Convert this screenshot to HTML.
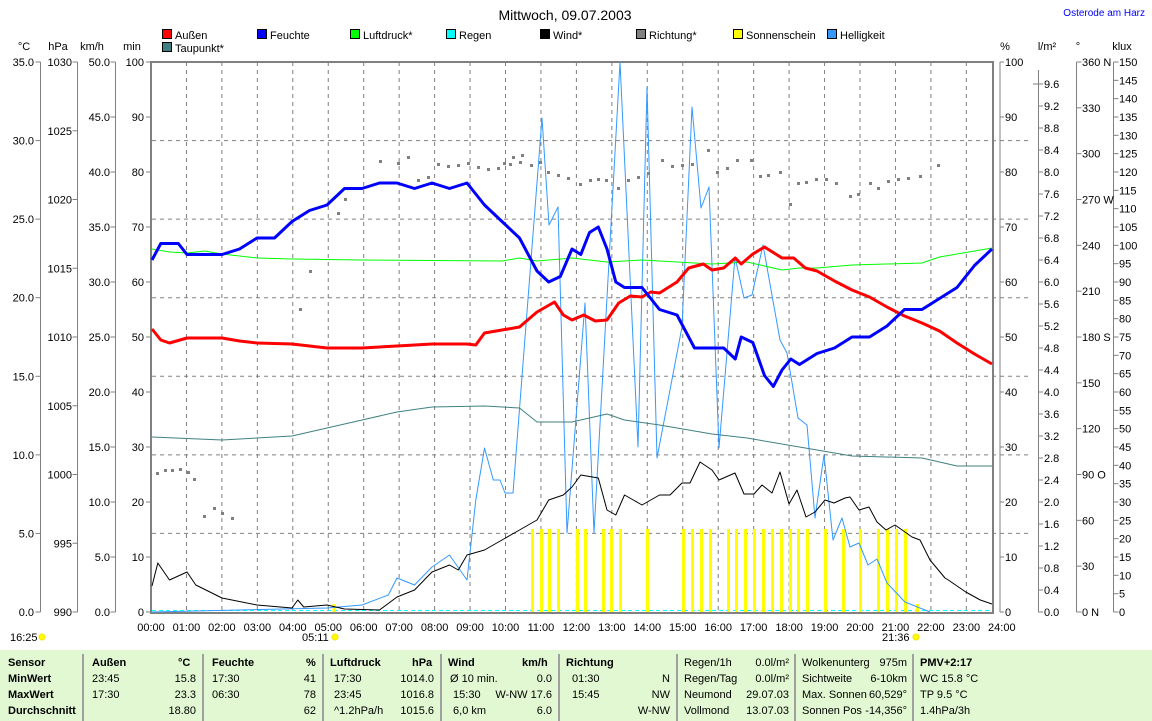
<!DOCTYPE html>
<html><head><meta charset="utf-8">
<style>
body{margin:0;background:#fff;width:1152px;height:721px;overflow:hidden;font-family:"Liberation Sans",sans-serif;}
svg{position:absolute;left:0;top:0}
svg text{font-family:"Liberation Sans",sans-serif;font-size:11px;fill:#000}
#tbl{position:absolute;left:0;top:650px;width:1152px;height:71px;background:#e2f8d2;font-size:11px;font-family:"Liberation Sans",sans-serif;}
#tbl div{position:absolute;white-space:nowrap;line-height:16px}
#tbl .b{font-weight:bold}
#tbl .v{position:absolute;width:2px;background:#a0a0a0;top:4px;height:67px}
</style></head><body>
<svg id="s" width="1152" height="650" xmlns="http://www.w3.org/2000/svg">
<text x="565" y="20" text-anchor="middle" style="font-size:14px">Mittwoch, 09.07.2003</text>
<text x="1145" y="16" text-anchor="end" style="fill:#0000ff;font-size:10px">Osterode am Harz</text>
<g id="leg"></g>
<g id="grid"></g>
<g id="axes" stroke="#808080" fill="none"></g>
<g id="lbl"></g>
<g id="data"></g>
<text x="24" y="50" text-anchor="middle">°C</text>
<text x="58" y="50" text-anchor="middle">hPa</text>
<text x="92" y="50" text-anchor="middle">km/h</text>
<text x="132" y="50" text-anchor="middle">min</text>
<text x="1005" y="50" text-anchor="middle">%</text>
<text x="1047" y="50" text-anchor="middle">l/m²</text>
<text x="1078" y="50" text-anchor="middle">°</text>
<text x="1122" y="50" text-anchor="middle">klux</text>
<text x="10" y="641">16:25</text>
<text x="302" y="641">05:11</text>
<text x="882" y="641">21:36</text>
</svg>
<div id="tbl">
<div class="v" style="left:82px"></div><div class="v" style="left:202px"></div><div class="v" style="left:322px"></div><div class="v" style="left:440px"></div><div class="v" style="left:558px"></div><div class="v" style="left:676px"></div><div class="v" style="left:794px"></div><div class="v" style="left:912px"></div>
<div class="b" style="left:8px;top:5px">Sensor<br>MinWert<br>MaxWert<br>Durchschnitt</div>
<div class="b" style="left:92px;top:5px">Außen</div><div class="b" style="left:178px;top:5px">°C</div>
<div style="left:92px;top:21px">23:45<br>17:30</div><div style="left:150px;top:21px;text-align:right;width:46px">15.8<br>23.3<br>18.80</div>
<div class="b" style="left:212px;top:5px">Feuchte</div><div class="b" style="left:306px;top:5px">%</div>
<div style="left:212px;top:21px">17:30<br>06:30</div><div style="left:280px;top:21px;text-align:right;width:36px">41<br>78<br>62</div>
<div class="b" style="left:330px;top:5px">Luftdruck</div><div class="b" style="left:412px;top:5px">hPa</div>
<div style="left:334px;top:21px">17:30<br>23:45<br>^1.2hPa/h</div><div style="left:390px;top:21px;text-align:right;width:44px">1014.0<br>1016.8<br>1015.6</div>
<div class="b" style="left:448px;top:5px">Wind</div><div class="b" style="left:522px;top:5px">km/h</div>
<div style="left:450px;top:21px">Ø 10 min.<br>&nbsp;15:30<br>&nbsp;6,0 km</div><div style="left:490px;top:21px;text-align:right;width:62px">0.0<br>W-NW 17.6<br>6.0</div>
<div class="b" style="left:566px;top:5px">Richtung</div>
<div style="left:572px;top:21px">01:30<br>15:45</div><div style="left:620px;top:21px;text-align:right;width:50px">N<br>NW<br>W-NW</div>
<div style="left:684px;top:5px">Regen/1h<br>Regen/Tag<br>Neumond<br>Vollmond</div><div style="left:730px;top:5px;text-align:right;width:59px">0.0l/m²<br>0.0l/m²<br>29.07.03<br>13.07.03</div>
<div style="left:802px;top:5px">Wolkenunterg<br>Sichtweite<br>Max. Sonnen<br>Sonnen Pos</div><div style="left:848px;top:5px;text-align:right;width:59px">975m<br>6-10km<br>60,529°<br>-14,356°</div>
<div style="left:920px;top:5px"><b>PMV+2:17</b><br>WC 15.8 °C<br>TP 9.5 °C<br>1.4hPa/3h</div>
</div>
<script>
var NS="http://www.w3.org/2000/svg";
function el(p,t,a){var e=document.createElementNS(NS,t);for(var k in a)e.setAttribute(k,a[k]);p.appendChild(e);return e;}
function tx(p,x,y,s,anc){var e=el(p,"text",{x:x,y:y});if(anc)e.setAttribute("text-anchor",anc);e.textContent=s;return e;}
var L=152,R=992,T=62,B=612;
function X(h){return L+35*h}
function G(h){return 151+35.45*h}
function hm(s){var a=s.split(":");return +a[0]+a[1]/60}
function px(v){return typeof v==="number"?v:X(hm(v))}
var g=document.getElementById("grid"),ax=document.getElementById("axes"),lb=document.getElementById("lbl"),d=document.getElementById("data"),lg=document.getElementById("leg");
var leg=[["Außen","#ff0000",162,38],["Feuchte","#0000ff",257,38],["Luftdruck*","#00ff00",350,38],["Regen","#00ffff",446,38],["Wind*","#000000",540,38],["Richtung*","#808080",636,38],["Sonnenschein","#ffff00",733,38],["Helligkeit","#3399ff",827,38],["Taupunkt*","#408080",162,51]];
leg.forEach(function(l){el(lg,"rect",{x:l[2]+0.5,y:l[3]-8.5,width:9,height:9,fill:l[1],stroke:"#000"});tx(lg,l[2]+13,l[3]+1,l[0]);});
for(var h=1;h<24;h++)el(g,"line",{x1:G(h),y1:T,x2:G(h),y2:B,stroke:"#808080","stroke-dasharray":"4,4"});
for(var i=1;i<7;i++){var y=B-i*550/7;el(g,"line",{x1:L,y1:y,x2:1030,y2:y,stroke:"#808080","stroke-dasharray":"4,4"});}
el(g,"line",{x1:L,y1:610.5,x2:R,y2:610.5,stroke:"#00ffff","stroke-dasharray":"4,3"});
el(ax,"rect",{x:L-1,y:T,width:R-L+2,height:B-T+1,"stroke-width":2});
el(ax,"line",{x1:1000,y1:T,x2:1000,y2:B});
function axis(x,n,fmt,lx,right){el(ax,"line",{x1:x,y1:T,x2:x,y2:B});for(var i=0;i<=n;i++){var y=B-i*550/n;el(ax,"line",{x1:right?x:x-5,y1:y,x2:right?x+5:x,y2:y});tx(lb,lx,y+4,fmt(i),right?"start":"end");}}
axis(40.5,7,function(i){return (i*5).toFixed(1)},34,false);
axis(77.5,8,function(i){return 990+i*5},72,false);
axis(115.5,10,function(i){return (i*5).toFixed(1)},110,false);
for(var i=0;i<=10;i++){var y=B-i*55;el(ax,"line",{x1:146,y1:y,x2:150,y2:y});tx(lb,144,y+4,i*10,"end");}
for(var i=0;i<=10;i++){var y=B-i*55;el(ax,"line",{x1:1000,y1:y,x2:1004,y2:y});tx(lb,1005,y+4,i*10);}
el(ax,"line",{x1:1038.5,y1:70,x2:1038.5,y2:B});
for(var i=0;i<=24;i++){var y=B-i*22;el(ax,"line",{x1:1038,y1:y,x2:1043,y2:y});tx(lb,1044,y+4,(i*0.4).toFixed(1));}
el(ax,"line",{x1:1033,y1:84,x2:1043,y2:84});
var dn={0:" N",3:" O",6:" S",9:" W",12:" N"};
axis(1076.5,12,function(i){return (i*30)+(dn[i]||"")},1082,true);
axis(1113.5,30,function(i){return i*5},1119,true);
for(var h=0;h<=24;h++)tx(lb,G(h),631,(h<10?"0":"")+h+":00","middle");
[[42,637],[335,637],[916,637]].forEach(function(p){el(lb,"circle",{cx:p[0],cy:p[1],r:3,fill:"#ffff00",stroke:"#ffe000"});});
el(d,"line",{x1:334,y1:604,x2:334,y2:612,stroke:"#ffff00","stroke-width":3});
[532,541,549,558,577,585,603,611,620,647,683,692,701,710,728,736,745,754,763,772,781,790,798,807,825,843,860,878,887,896,905].forEach(function(x){el(d,"rect",{x:x-1,y:529,width:3,height:83,fill:"#ffff00"});});
el(d,"rect",{x:916,y:604,width:3,height:8,fill:"#ffff00"});
function line(pts,col,w){var s=pts.map(function(p){return px(p[0]).toFixed(1)+","+p[1]}).join(" ");el(d,"polyline",{points:s,fill:"none",stroke:col,"stroke-width":w||1,"stroke-linejoin":"round"});}
var dots=[[157,473],[165,470],[172,470],[180,469],[188,472],[194,479],[204,516],[214,508],[222,513],[232,518],[300,309],[310,271],[338,213],[345,199],[380,161],[398,163],[408,157],[418,180],[428,177],[438,164],[448,166],[458,165],[468,163],[478,167],[488,169],[498,168],[510,164],[520,162],[504,163],[513,157],[522,155],[531,165],[540,162],[548,172],[558,175],[568,178],[580,184],[590,180],[598,179],[606,180],[618,188],[628,180],[638,177],[648,173],[662,160],[672,166],[682,165],[692,164],[708,150],[717,172],[727,168],[737,160],[751,160],[760,176],[768,175],[780,172],[790,204],[798,183],[806,182],[816,179],[826,179],[836,183],[850,196],[858,194],[870,183],[878,188],[888,181],[898,179],[908,178],[920,176],[938,165]];
dots.forEach(function(p){el(d,"rect",{x:p[0]-1,y:p[1]-1,width:3,height:3,fill:"#808080"});});
// helligkeit
line([["0:00",612],["5:00",608],["6:00",605],["6:45",595],["7:00",578],["7:30",585],["8:00",567],["8:30",555],["9:00",580],["9:15",500],["9:30",448],["9:45",480],[500,480],[505,493],[513,493],[542,118],[549,225],[558,207],[567,533],[585,303],[594,533],[620,62],[638,447],[647,87],[657,458],[682,327],[692,107],[701,208],[709,187],[719,448],[735,257],[744,298],[752,295],[763,245],[780,340],[787,353],[798,418],[807,425],[815,518],[824,455],[833,540],[842,518],[850,547],[859,543],[868,565],[877,559],[887,583],[905,602],[930,612]],"#3399ff",1);
line([["0:00",437],["2:00",440],["4:00",436],["5:00",428],["6:00",420],["7:00",412],["8:00",407],["9:30",406],["10:30",408],["11:00",422],["12:00",422],["13:00",414],["13:30",420],["14:30",425],["16:00",434],["17:00",438],["19:00",450],["20:00",456],["22:00",458],["23:00",466],["24:00",466]],"#408080",1);
line([["0:00",249],["0:30",252],["1:00",253],["1:30",251],["2:00",254],["3:00",258],["4:00",259],["6:00",260],["10:00",261],["10:30",258],["11:00",261],["12:00",258],["13:00",262],["14:00",260],["16:00",264],["17:00",262],["18:00",270],["18:30",268],["19:00",268],["20:00",265],["22:00",263],["22:30",257],["23:30",251],["24:00",248]],"#00ff00",1);
line([["0:00",586],["0:10",563],["0:30",580],["1:00",572],["1:15",585],["2:00",598],["3:00",605],["4:00",608],["4:10",600],["4:20",607],["5:00",605],["5:30",609],["6:30",610],["7:00",597],["7:30",590],["8:00",572],["8:30",565],["8:45",570],["9:00",555],["9:30",550],["10:00",540],["10:30",530],["11:00",520],["11:20",500],["11:45",495],["12:00",487],["12:15",475],["12:45",478],["13:00",510],["13:15",515],["13:30",495],["13:45",500],["14:00",505],["14:30",495],[670,495],[682,483],[690,483],[700,462],[712,470],[719,480],[735,473],[744,494],[754,494],[762,485],[772,493],[780,472],[789,504],[797,490],[806,517],[815,512],[825,500],[834,503],[845,498],[850,497],[859,510],[869,507],[877,522],[886,530],[895,525],[905,532],[912,537],[920,540],[930,560],[945,578],["22:45",580],["23:15",592],["23:40",600],["24:00",604]],"#000000",1);
line([["0:00",329],["0:15",340],["0:30",343],["1:00",338],["2:00",338],["2:30",341],["3:00",343],["4:00",344],["5:00",348],["6:00",348],["7:00",346],["8:00",344],["9:00",344],["9:15",345],["9:30",333],["10:00",330],["10:30",327],["11:00",312],["11:30",302],["11:45",315],["12:00",320],["12:20",315],["12:40",321],["13:00",320],["13:20",303],["13:40",296],["14:00",297],["14:15",292],["14:30",293],["15:00",282],["15:20",268],["15:45",264],["16:00",270],["16:20",268],["16:40",258],["16:50",264],["17:10",254],["17:30",247],["18:00",258],["18:20",258],["18:40",268],["19:00",271],["19:30",281],["20:00",290],["20:30",297],["21:00",307],["21:30",316],["22:00",323],["22:30",331],["23:00",343],["23:30",354],["24:00",364]],"#ff0000",3);
var fh=[["0:00",64],["0:15",67],["0:45",67],["1:00",65],["2:00",65],["2:30",66],["3:00",68],["3:30",68],["4:00",71],["4:30",73],["5:00",74],["5:30",77],["6:00",77],["6:30",78],["7:00",78],["7:30",77],["8:00",78],["8:30",77],["9:00",78],["9:30",74],["10:00",71],["10:30",68],["11:00",62],["11:20",60],["11:40",61],["12:00",66],["12:15",65],["12:30",69],["12:45",70],["13:00",66],["13:15",60],["13:30",59],["14:00",59],["14:30",55],["15:00",54],["15:30",48],["16:00",48],["16:20",48],["16:40",46],["16:50",50],["17:10",49],["17:30",43],["17:45",41],["18:00",44],["18:15",46],["18:30",45],["19:00",47],["19:30",48],["20:00",50],["20:30",50],["21:00",52],["21:30",55],["22:00",55],["22:30",57],["23:00",59],["23:30",63],["24:00",66]];
line(fh.map(function(p){return [p[0],(612-5.5*p[1]).toFixed(1)]}),"#0000ff",3);
</script>
</body></html>
